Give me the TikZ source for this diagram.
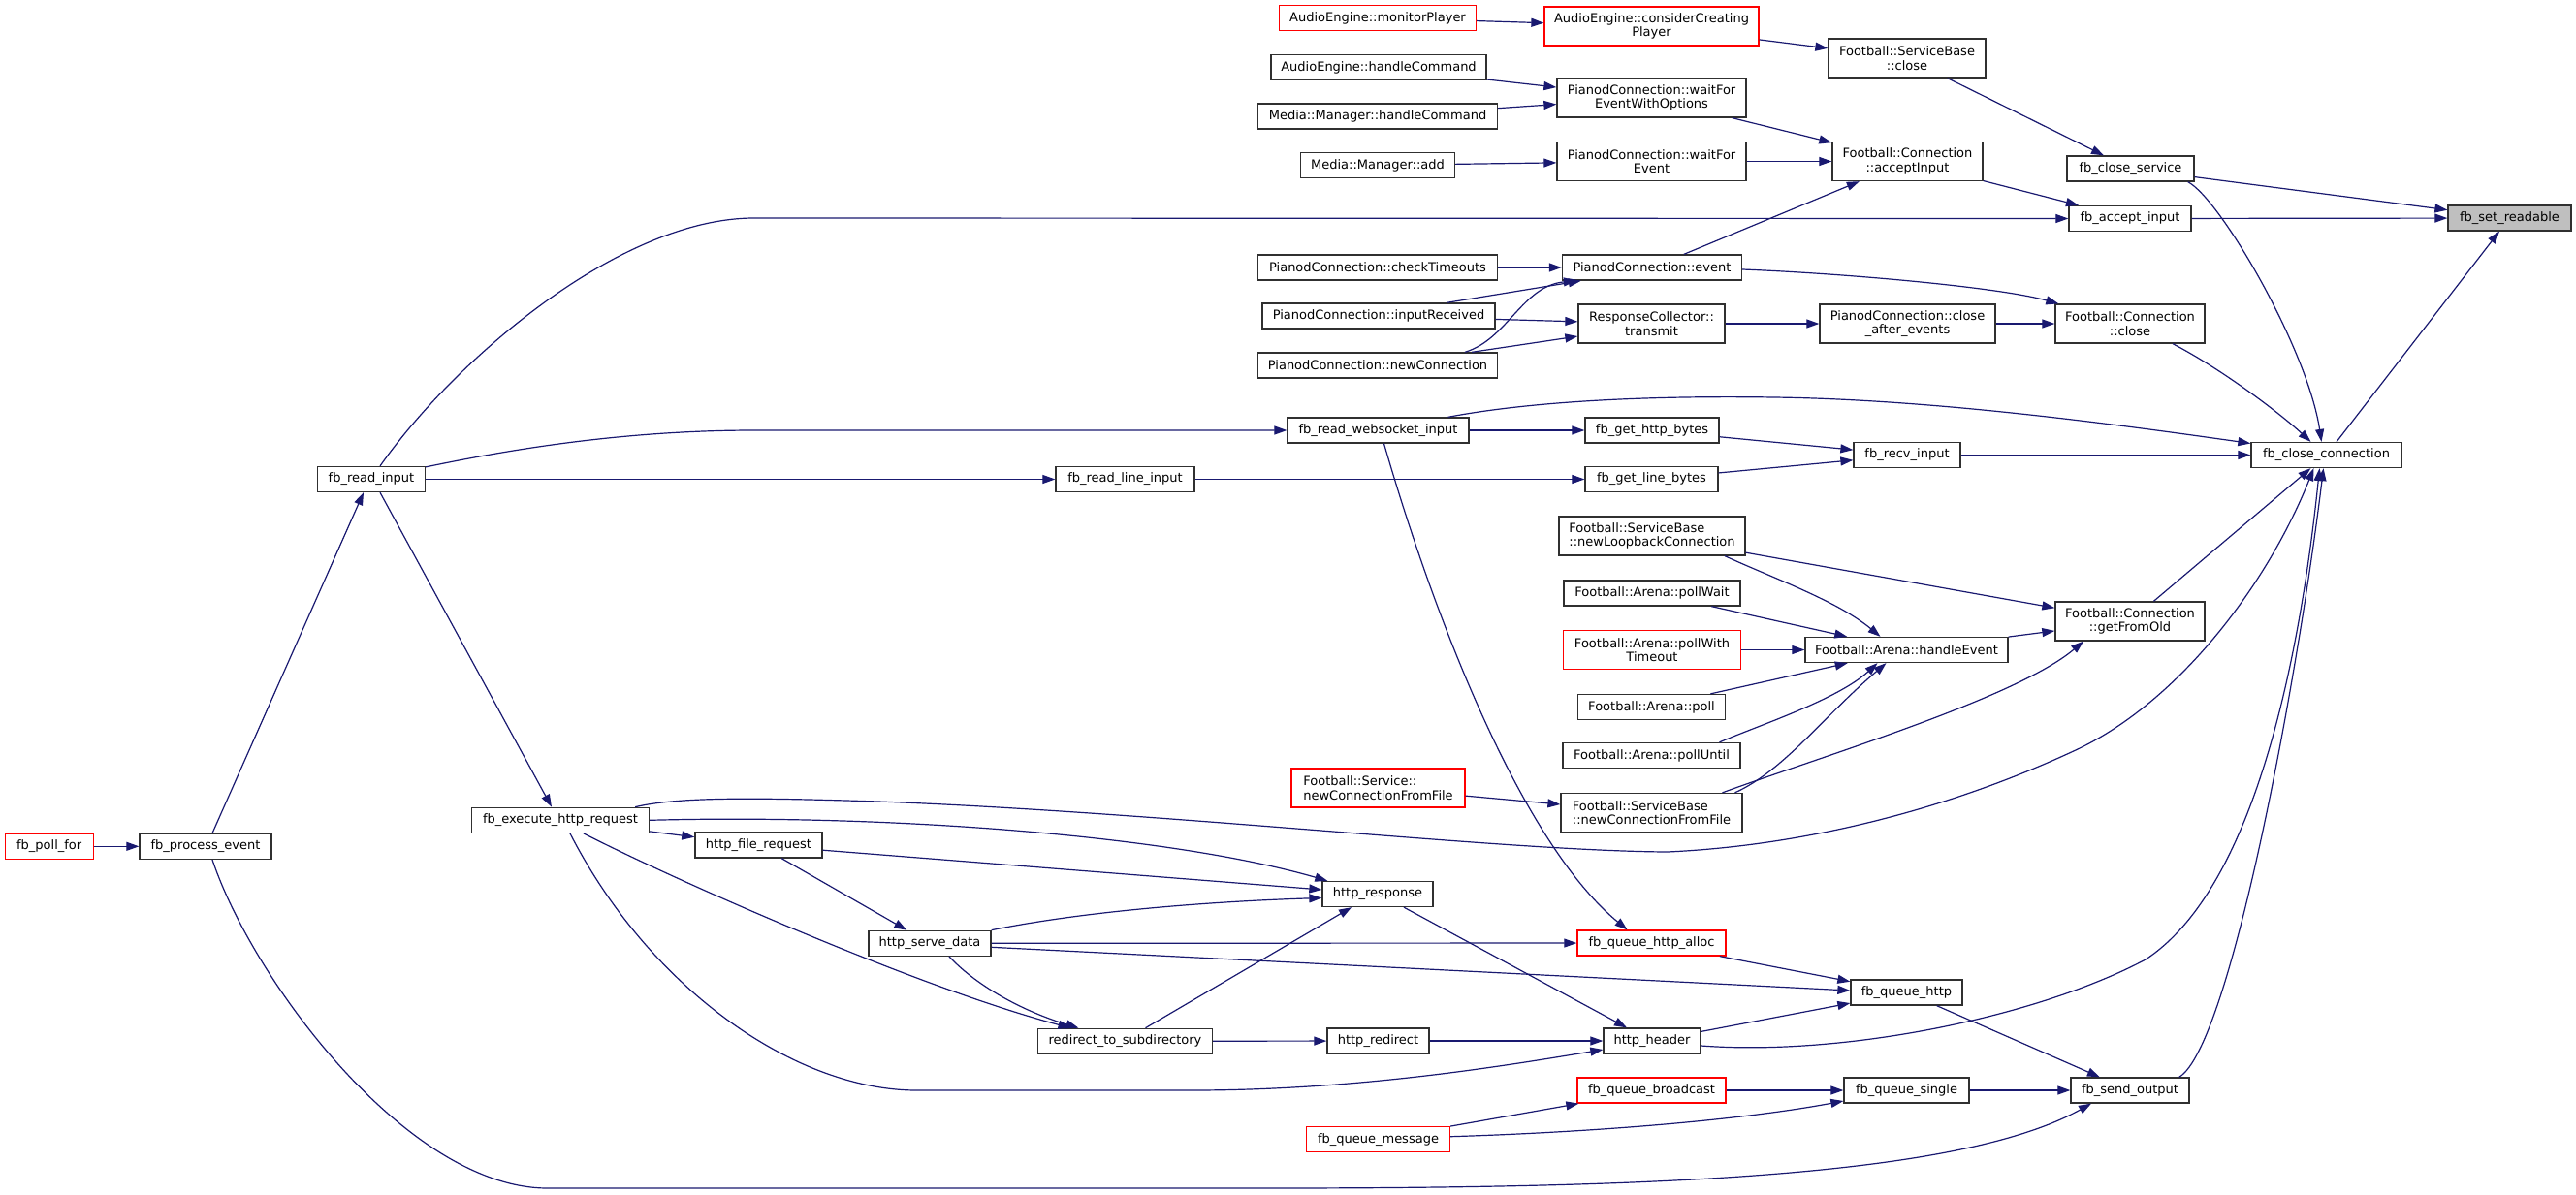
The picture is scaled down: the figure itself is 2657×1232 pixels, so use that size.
\documentclass[tikz,border=0pt]{standalone}
\usepackage{fontspec}
\setmainfont{DejaVu Sans}
\usetikzlibrary{arrows.meta}
\definecolor{edgeblue}{HTML}{191970}
\definecolor{boxline}{HTML}{303030}
\definecolor{hilite}{HTML}{BFBFBF}
\tikzset{
  box/.style={draw=boxline, line width=1.3pt, fill=white, inner sep=0pt, align=center,
    font=\fontsize{13pt}{14.5pt}\selectfont, minimum height=26pt},
  tall/.style={minimum height=40pt},
  redbox/.style={draw=red},
  lbox/.style={align=left},
  conn/.style={draw=edgeblue, line width=1.2pt, -{Triangle[length=13pt,width=9pt]}},
}
\begin{document}
\begin{tikzpicture}[x=1pt,y=-1pt]
\fill[white] (0,0) rectangle (2657,1232);
\useasboundingbox (0,0) rectangle (2657,1232);
% right columns
\node[box, fill=hilite, minimum width=127pt] (sr) at (2588.5,225) {fb\_set\_readable};
\node[box, minimum width=131pt] (cs) at (2197.5,174) {fb\_close\_service};
\node[box, minimum width=126pt] (ai) at (2197,225.5) {fb\_accept\_input};
\node[box, minimum width=155pt] (cc) at (2399.5,469.5) {fb\_close\_connection};
\node[box, tall, minimum width=154pt] (fcc) at (2197,334) {Football::Connection\\::close};
\node[box, tall, minimum width=154pt] (gfo) at (2197,641) {Football::Connection\\::getFromOld};
\node[box, minimum width=122pt] (so) at (2197,1125) {fb\_send\_output};
\node[box, tall, minimum width=162pt] (sbc) at (1967,60) {Football::ServiceBase\\::close};
\node[box, tall, minimum width=155pt] (fca) at (1967.5,166.5) {Football::Connection\\::acceptInput};
\node[box, tall, minimum width=181pt] (cae) at (1967.5,334) {PianodConnection::close\\\_after\_events};
\node[box, minimum width=110pt] (ri) at (1967,469.5) {fb\_recv\_input};
\node[box, minimum width=209pt] (he) at (1966.5,670.5) {Football::Arena::handleEvent};
\node[box, minimum width=115pt] (qh) at (1966.5,1024) {fb\_queue\_http};
\node[box, minimum width=129pt] (qs) at (1966.5,1125) {fb\_queue\_single};
% column 1704
\node[box, tall, redbox, minimum width=221pt] (ccp) at (1703.5,27) {AudioEngine::considerCreating\\Player};
\node[box, tall, minimum width=195pt] (wfo) at (1703.5,101) {PianodConnection::waitFor\\EventWithOptions};
\node[box, tall, minimum width=195pt] (wf) at (1703.5,166.5) {PianodConnection::waitFor\\Event};
\node[box, minimum width=185pt] (ev) at (1704,276) {PianodConnection::event};
\node[box, tall, minimum width=151pt] (tr) at (1703.5,334) {ResponseCollector::\\transmit};
\node[box, minimum width=138pt] (hb) at (1704,444) {fb\_get\_http\_bytes};
\node[box, minimum width=137pt] (lb) at (1703.5,494.5) {fb\_get\_line\_bytes};
\node[box, tall, lbox, minimum width=192pt] (lc) at (1704,553) {Football::ServiceBase\\::newLoopbackConnection};
\node[box, minimum width=182pt] (pw) at (1704,612) {Football::Arena::pollWait};
\node[box, tall, redbox, minimum width=183pt] (pt) at (1704,670.5) {Football::Arena::pollWith\\Timeout};
\node[box, minimum width=152pt] (po) at (1703.5,729.5) {Football::Arena::poll};
\node[box, minimum width=183pt] (pu) at (1703.5,779.5) {Football::Arena::pollUntil};
\node[box, tall, lbox, minimum width=187pt] (sbf) at (1703.5,838.5) {Football::ServiceBase\\::newConnectionFromFile};
\node[box, redbox, minimum width=153pt] (qa) at (1703.5,973) {fb\_queue\_http\_alloc};
\node[box, minimum width=100pt] (hh) at (1704,1074) {http\_header};
\node[box, redbox, minimum width=153pt] (qb) at (1703.5,1125) {fb\_queue\_broadcast};
% column 1421
\node[box, redbox, minimum width=203pt] (mp) at (1421,18.5) {AudioEngine::monitorPlayer};
\node[box, minimum width=222pt] (ahc) at (1422,69.5) {AudioEngine::handleCommand};
\node[box, minimum width=247pt] (mhc) at (1421,120) {Media::Manager::handleCommand};
\node[box, minimum width=159pt] (ma) at (1421,170.5) {Media::Manager::add};
\node[box, minimum width=247pt] (ct) at (1421,276) {PianodConnection::checkTimeouts};
\node[box, minimum width=240pt] (ir) at (1422,326) {PianodConnection::inputReceived};
\node[box, minimum width=247pt] (nc) at (1421,377) {PianodConnection::newConnection};
\node[box, minimum width=187pt] (ws) at (1421.5,444) {fb\_read\_websocket\_input};
\node[box, tall, lbox, redbox, minimum width=179pt] (snf) at (1421.5,813) {Football::Service::\\newConnectionFromFile};
\node[box, minimum width=114pt] (hr) at (1421,922.5) {http\_response};
\node[box, minimum width=105pt] (hrd) at (1421.5,1074) {http\_redirect};
\node[box, redbox, minimum width=148pt] (qm) at (1421.5,1175.7) {fb\_queue\_message};
% left part
\node[box, minimum width=143pt] (rl) at (1160.5,494.5) {fb\_read\_line\_input};
\node[box, minimum width=180pt] (rs) at (1160.5,1074.3) {redirect\_to\_subdirectory};
\node[box, minimum width=126pt] (sd) at (959,973.3) {http\_serve\_data};
\node[box, minimum width=131pt] (fr) at (782.4,872) {http\_file\_request};
\node[box, minimum width=183pt] (ex) at (578,846.3) {fb\_execute\_http\_request};
\node[box, minimum width=111pt] (rin) at (383,494.5) {fb\_read\_input};
\node[box, minimum width=136pt] (pe) at (212,873.3) {fb\_process\_event};
\node[box, redbox, minimum width=91pt] (pf) at (50.7,873.3) {fb\_poll\_for};

% edges
\draw[conn] (mp) -- (ccp);
\draw[conn] (ccp) -- (sbc);
\draw[conn] (sbc) -- (cs);
\draw[conn] (ahc) -- (wfo);
\draw[conn] (mhc) -- (wfo);
\draw[conn] (wfo) -- (fca);
\draw[conn] (ma) -- (wf);
\draw[conn] (wf) -- (fca);
\draw[conn] (fca) -- (ai);
\draw[conn] (ev) -- (fca);
\draw[conn] ([xshift=9pt]rin.north) .. controls (470,370) and (640,225) .. (778,225) -- (ai.west);
\draw[conn] (cs) -- (sr);
\draw[conn] (ai) -- (sr);
\draw[conn] (cc) -- (sr);
\draw[conn] ([xshift=-7pt]cs.south east) .. controls (2290,205) and (2380,360) .. ([xshift=-5pt]cc.north);
\draw[conn] ([xshift=44pt]fcc.south) .. controls (2290,380) and (2350,425) .. ([xshift=-16pt]cc.north);
\draw[conn] (ct) -- (ev);
\draw[conn] ([xshift=70pt]ir.north) -- ([xshift=20pt]ev.south west);
\draw[conn] ([xshift=90pt]nc.north) .. controls (1555,350) and (1570,295) .. ([xshift=15pt]ev.south west);
\draw[conn] (ir) -- (tr);
\draw[conn] ([xshift=97pt]nc.north) -- ([yshift=-13pt]tr.west);
\draw[conn] (tr) -- (cae);
\draw[conn] (cae) -- (fcc);
\draw[conn] ([yshift=-2pt]ev.east) .. controls (1900,282) and (2060,296) .. ([xshift=4pt]fcc.north west);
\draw[conn] ([xshift=72pt]ws.north) .. controls (1580,414) and (1700,408) .. (1830,410) .. controls (1980,412) and (2150,433) .. ([yshift=12pt]cc.west);
\draw[conn] (ri) -- (cc);
\draw[conn] ([yshift=-1pt]rin.north east) .. controls (520,465) and (640,444) .. (778,444) -- (ws.west);
\draw[conn] (ws) -- (hb);
\draw[conn] (hb) -- (ri);
\draw[conn] (lb) -- (ri);
\draw[conn] (rin) -- (rl);
\draw[conn] (rl) -- (lb);
\draw[conn] ([xshift=6pt]ws.south) .. controls (1480,640) and (1570,870) .. ([xshift=-25pt]qa.north);
\draw[conn] ([xshift=75pt]lc.south) .. controls (1830,597) and (1895,620) .. ([xshift=-27pt]he.north);
\draw[conn] (lc) -- (gfo);
\draw[conn] (pw) -- (he);
\draw[conn] (pt) -- (he);
\draw[conn] (po) -- (he);
\draw[conn] ([xshift=70pt]pu.north) .. controls (1815,748) and (1895,722) .. ([xshift=-30pt]he.south);
\draw[conn] ([xshift=86pt]sbf.north) .. controls (1840,795) and (1880,740) .. ([xshift=-21pt]he.south);
\draw[conn] ([xshift=73pt]sbf.north) .. controls (1880,780) and (2080,720) .. ([xshift=-48pt]gfo.south);
\draw[conn] (he) -- (gfo);
\draw[conn] (gfo) -- (cc);
\draw[conn] (snf) -- (sbf);
\draw[conn] ([xshift=-15pt]ex.north east) .. controls (700,822) and (780,823) .. (906,827) .. controls (1200,838) and (1550,878) .. (1720,879) .. controls (1850,873) and (2000,840) .. (2143,773) .. controls (2250,722) and (2340,600) .. ([xshift=-13pt]cc.south);
\draw[conn] (ex.east) .. controls (900,840) and (1200,860) .. ([xshift=6pt]hr.north west);
\draw[conn] (ex) -- (fr);
\draw[conn] ([xshift=24pt]ex.south) .. controls (700,910) and (950,1020) .. ([xshift=-56pt]rs.north);
\draw[conn] ([xshift=10pt]ex.south) .. controls (670,1020) and (820,1125) .. (946,1125) -- (1228,1125) .. controls (1400,1125) and (1550,1100) .. ([yshift=-9pt]hh.west);
\draw[conn] (fr) -- (hr);
\draw[conn] (fr) -- (sd);
\draw[conn] (sd.north east) .. controls (1120,940) and (1250,930) .. ([yshift=-4pt]hr.west);
\draw[conn] (sd) -- (qa);
\draw[conn] ([yshift=-4pt]sd.east) -- ([yshift=2pt]qh.west);
\draw[conn] ([xshift=20pt]sd.south) .. controls (1010,1020) and (1060,1045) .. ([xshift=-48pt]rs.north);
\draw[conn] ([xshift=21pt]rs.north) -- ([xshift=-27pt]hr.south);
\draw[conn] (rs) -- (hrd);
\draw[conn] ([xshift=27pt]hr.south) -- ([xshift=-26pt]hh.north);
\draw[conn] (hrd) -- (hh);
\draw[conn] (qa) -- (qh);
\draw[conn] (hh) -- (qh);
\draw[conn] ([yshift=-5pt]hh.east) .. controls (1900,1090) and (2100,1050) .. (2213,990) .. controls (2320,920) and (2370,700) .. ([xshift=-7pt]cc.south);
\draw[conn] (qh) -- (so);
\draw[conn] ([xshift=-11pt]so.north east) .. controls (2300,1080) and (2370,700) .. ([xshift=-3pt]cc.south);
\draw[conn] (qb) -- (qs);
\draw[conn] (qm.north east) -- ([xshift=2pt]qb.south west);
\draw[conn] ([yshift=3pt]qm.east) .. controls (1650,1168) and (1800,1155) .. ([yshift=-11pt]qs.west);
\draw[conn] (qs) -- (so);
\draw[conn] ([xshift=7pt]pe.south) .. controls (260,1010) and (420,1226) .. (565,1226) -- (1300,1226) .. controls (1700,1226) and (2020,1215) .. ([xshift=-40pt]so.south);
\draw[conn] (pf) -- (pe);
\draw[conn] ([xshift=7pt]pe.north) -- ([xshift=-8pt]rin.south);
\draw[conn] ([xshift=9pt]rin.south) -- ([xshift=-9pt]ex.north);
\end{tikzpicture}
\end{document}
